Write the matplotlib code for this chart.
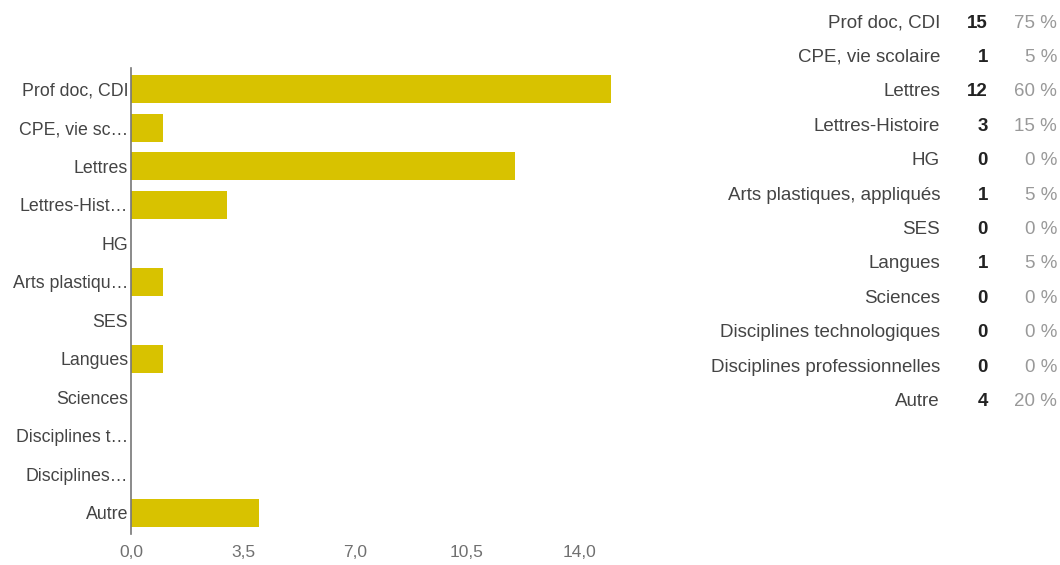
import matplotlib.pyplot as plt
from matplotlib.ticker import FuncFormatter

# survey answers: discipline -> number of respondents
categories = ["Prof doc, CDI", "CPE, vie scolaire", "Lettres", "Lettres-Histoire", "HG",
              "Arts plastiques, appliqués", "SES", "Langues", "Sciences",
              "Disciplines technologiques", "Disciplines professionnelles", "Autre"]
short_labels = ["Prof doc, CDI", "CPE, vie sc…", "Lettres", "Lettres-Hist…", "HG",
                "Arts plastiqu…", "SES", "Langues", "Sciences", "Disciplines t…",
                "Disciplines…", "Autre"]
counts = [15, 1, 12, 3, 0, 1, 0, 1, 0, 0, 0, 4]
percents = [75, 5, 60, 15, 0, 5, 0, 5, 0, 0, 0, 20]
xticks = [0.0, 3.5, 7.0, 10.5, 14.0]

BAR = "#d8c200"
TXT = "#444444"
FONT = "Liberation Sans"

plt.rcParams["font.family"] = FONT

fig = plt.figure(figsize=(10.6, 5.65), dpi=100)
W, H = 1060, 565

# axes placed in pixel terms: spine at x=131, 32 px per unit
x0, x1 = 131, 131 + 32 * 15.2
y_top, y_bot = 68, 534
ax = fig.add_axes([x0 / W, 1 - y_bot / H, (x1 - x0) / W, (y_bot - y_top) / H])

y = range(len(categories))
ax.barh(y, counts, height=0.72, color=BAR)
ax.set_ylim(len(categories) - 0.45, -0.55)
ax.set_xlim(0, 15.2)

ax.set_yticks(list(y))
ax.set_yticklabels(short_labels, fontsize=12.8, color=TXT)
ax.set_xticks(xticks)
ax.xaxis.set_major_formatter(FuncFormatter(lambda v, p: f"{v:.1f}".replace(".", ",")))
ax.tick_params(axis="x", length=0, labelsize=12.5, labelcolor="#707070", pad=8)
ax.tick_params(axis="y", length=0, pad=2)

for s in ("top", "right", "bottom"):
    ax.spines[s].set_visible(False)
ax.spines["left"].set_color("#777777")
ax.spines["left"].set_linewidth(1.2)

# summary table on the right
row0, step = 23, 34.4
for i, (cat, n, p) in enumerate(zip(categories, counts, percents)):
    yy = 1 - (row0 + i * step) / H
    fig.text(940 / W, yy, cat, ha="right", va="center", fontsize=13.5, color=TXT)
    fig.text(988 / W, yy, str(n), ha="right", va="center", fontsize=13.5,
             color="#222222", fontweight="bold")
    fig.text(1057 / W, yy, f"{p} %", ha="right", va="center", fontsize=13.5,
             color="#999999")

fig.savefig("out.png", dpi=100)
